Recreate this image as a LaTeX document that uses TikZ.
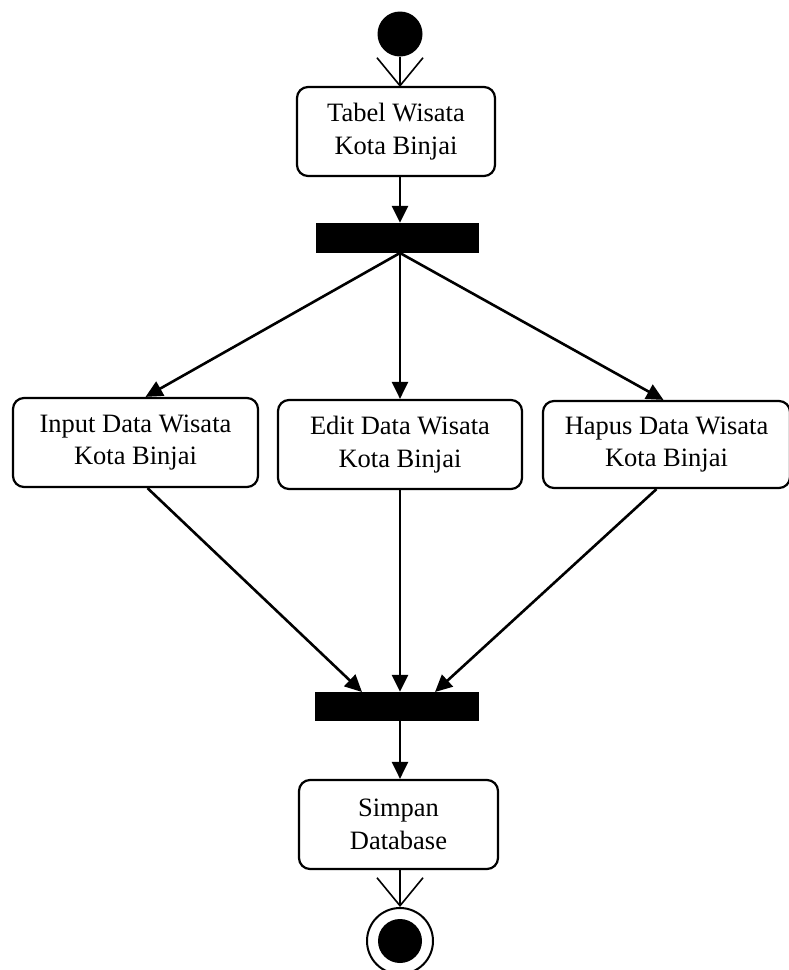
\documentclass[tikz,border=0pt]{standalone}
\usepackage{fontspec}
\setmainfont{Liberation Serif}
\usetikzlibrary{arrows.meta}
\begin{document}
\begin{tikzpicture}[x=1pt,y=-1pt,
  act/.style={draw,line width=2.2pt,rounded corners=11pt,align=center,font=\fontsize{26.5}{32.5}\selectfont,inner sep=0pt},
  bar/.style={fill=black,draw=none,inner sep=0pt},
  flow/.style={line width=2.6pt,-{Triangle[length=17pt,width=16pt]}},
  open/.style={line width=1.6pt,-{Straight Barb[length=28pt,width=46pt,line width=1.6pt]}}]
\useasboundingbox (0,0) rectangle (789,970);
\node[circle,fill=black,minimum size=45pt,inner sep=0pt] (start) at (400,34) {};
\node[act,minimum width=198pt,minimum height=89pt] (tabel) at (396,131.5) {Tabel Wisata\\Kota Binjai};
\node[bar,minimum width=163pt,minimum height=30pt] (fork) at (397.5,238) {};
\node[act,minimum width=245pt,minimum height=89pt] (input) at (135.5,442.5) {Input Data Wisata\\Kota Binjai};
\node[act,minimum width=244pt,minimum height=89pt] (edit) at (400,444.5) {Edit Data Wisata\\Kota Binjai};
\node[act,minimum width=247pt,minimum height=87pt] (hapus) at (666.5,444.5) {Hapus Data Wisata\\Kota Binjai};
\node[bar,minimum width=164pt,minimum height=29pt] (join) at (397,706.5) {};
\node[act,minimum width=199pt,minimum height=89pt] (simpan) at (398.5,824.5) {Simpan\\Database};
\node[circle,draw,line width=2pt,minimum size=66pt,inner sep=0pt] (end) at (400,941) {};
\node[circle,fill=black,minimum size=44pt,inner sep=0pt] (endin) at (end.center) {};
\draw[open] (start.south) -- (400,87);
\draw[flow] (tabel.south -| 400,0) -- (fork.north -| 400,0);
\draw[flow] (400,253) -- ([xshift=10pt]input.north);
\draw[flow] (400,253) -- (edit.north);
\draw[flow] (400,253) -- ([xshift=-3pt]hapus.north);
\draw[flow] ([xshift=12pt]input.south) -- (362,692);
\draw[flow] (edit.south) -- (join.north -| edit.south);
\draw[flow] ([xshift=-10pt]hapus.south) -- (435,692);
\draw[flow] (join.south -| 400,0) -- (simpan.north -| 400,0);
\draw[open] (simpan.south -| 400,0) -- (end.north);
\end{tikzpicture}
\end{document}
